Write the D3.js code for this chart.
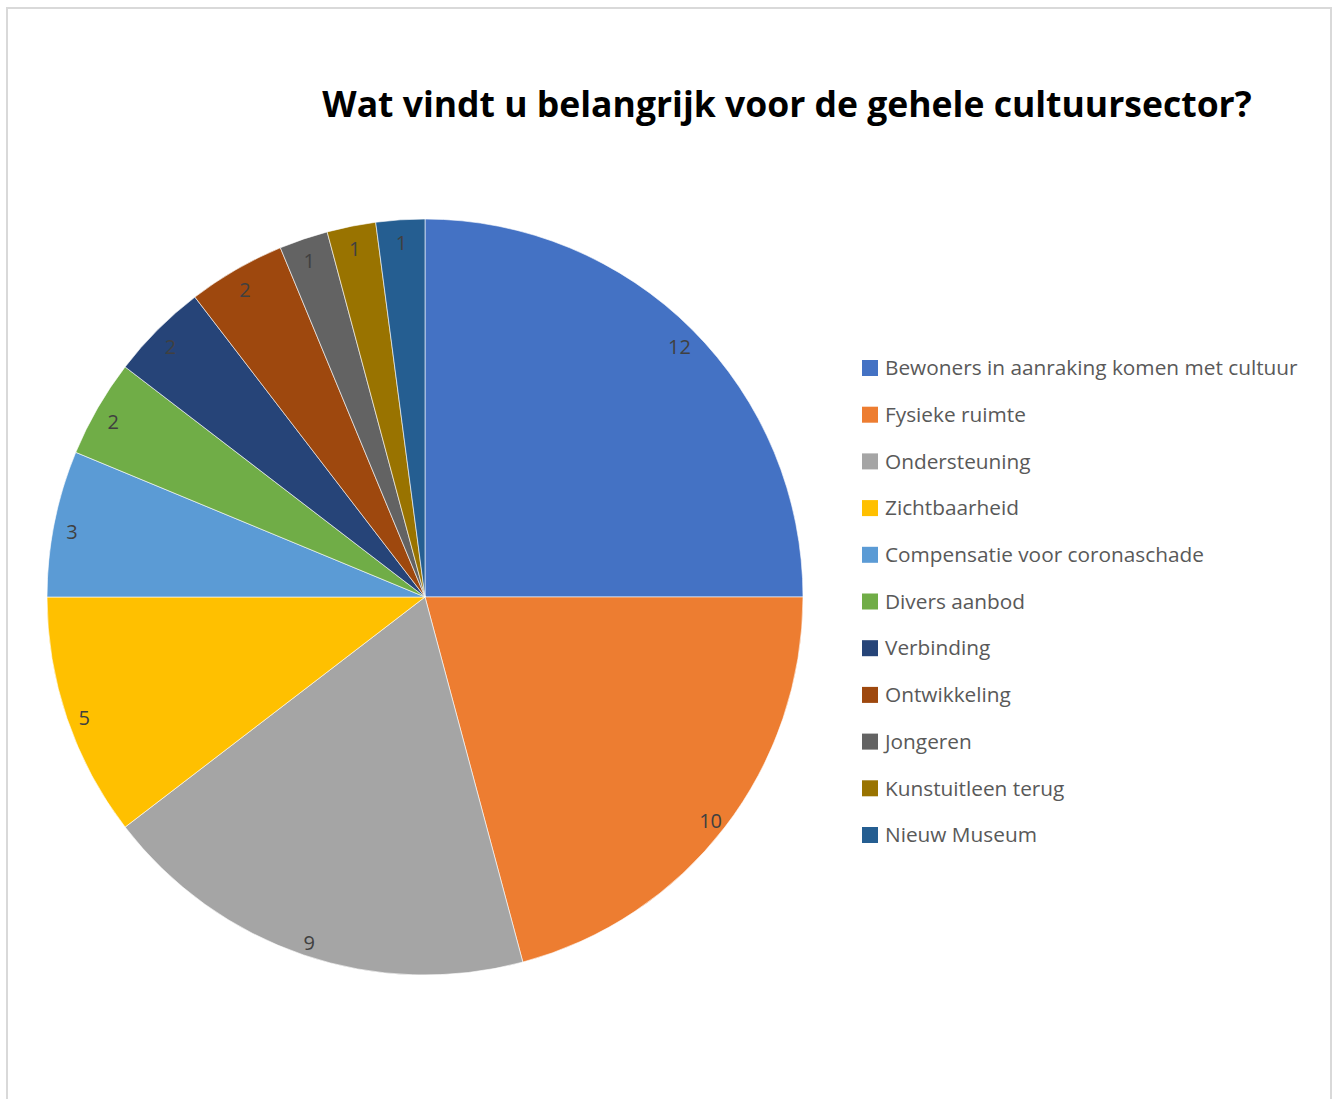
<!DOCTYPE html>
<html><head><meta charset="utf-8">
<script src="https://cdn.jsdelivr.net/npm/d3@7"></script>
<style>body{margin:0;background:#fff}svg{display:block}</style>
</head><body>
<svg id="c" width="1338" height="1099"></svg>
<script>
const categories = ["Bewoners in aanraking komen met cultuur","Fysieke ruimte","Ondersteuning","Zichtbaarheid","Compensatie voor coronaschade","Divers aanbod","Verbinding","Ontwikkeling","Jongeren","Kunstuitleen terug","Nieuw Museum"];
const values = [12,10,9,5,3,2,2,2,1,1,1];
const colors = ["#4472C4","#ED7D31","#A5A5A5","#FFC000","#5B9BD5","#70AD47","#264478","#9E480E","#636363","#997300","#255E91"];
const title = "Wat vindt u belangrijk voor de gehele cultuursector?";

const svg = d3.select("#c");
svg.append("rect").attr("x",7).attr("y",8).attr("width",1324).attr("height",1100)
  .attr("fill","#fff").attr("stroke","#d9d9d9").attr("stroke-width",2);

const t = svg.append("text").attr("x",787).attr("y",117).attr("text-anchor","middle")
  .attr("font-family","Open Sans").attr("font-weight","bold").attr("font-size",36)
  .attr("fill","#000").text(title);
const tw = t.node().getComputedTextLength();
t.attr("font-size", 36*930/tw);

const cx=425, cy=597, r=378;
const data = categories.map((c,i)=>({c, v:values[i], col:colors[i]}));
const pie = d3.pie().value(d=>d.v).sort(null);
const arc = d3.arc().innerRadius(0).outerRadius(r);
const lab = d3.arc().innerRadius(360).outerRadius(360);
const g = svg.append("g").attr("transform",`translate(${cx},${cy})`);
const arcs = pie(data);
g.selectAll("path").data(arcs).join("path").attr("d",arc).attr("fill",d=>d.data.col)
  .attr("stroke","#fff").attr("stroke-width",0.6);
g.selectAll("text").data(arcs).join("text")
  .attr("transform",d=>{const p=lab.centroid(d);return `translate(${p[0]},${p[1]+5})`;})
  .attr("text-anchor","middle").attr("dy","0.35em")
  .attr("font-family","Open Sans").attr("font-size",20).attr("fill","#404040")
  .text(d=>d.data.v);

const y = d3.scalePoint().domain(categories).range([368,835]);
const lg = svg.append("g");
const items = lg.selectAll("g").data(data).join("g").attr("transform",d=>`translate(862,${y(d.c)})`);
items.append("rect").attr("x",0).attr("y",-8).attr("width",16).attr("height",16).attr("fill",d=>d.col);
const lt = items.append("text").attr("x",23).attr("dy","0.35em").attr("font-family","Open Sans")
  .attr("font-size",19).attr("fill","#595959").text(d=>d.c);
const lw = lt.nodes()[0].getComputedTextLength();
lt.attr("font-size", 19*413/lw);
</script>
</body></html>
